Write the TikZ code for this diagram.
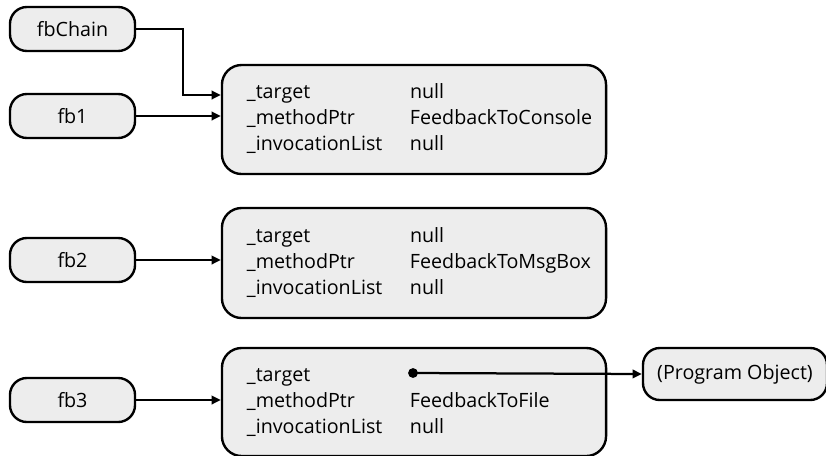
\documentclass[tikz,border=0pt]{standalone}
\usepackage{fontspec}
\setmainfont{Open Sans}
\usetikzlibrary{arrows.meta,positioning,calc}

\newcommand\fieldrows[3]{%
  \fontsize{14}{18.6}\selectfont
  \begin{tabular}{@{}p{4.075cm}@{}l@{}}
    \_target & #1\\
    \_methodPtr & #2\\
    \_invocationList & #3
  \end{tabular}}

\begin{document}
\begin{tikzpicture}[x=0.025cm, y=-0.025cm,
  ref/.style={draw, line width=1.7pt, fill=black!7, rounded corners=12pt,
    minimum width=3.125cm, minimum height=1.1cm, font=\fontsize{14}{16}\selectfont},
  obj/.style={draw, line width=1.7pt, fill=black!7, rounded corners=14pt,
    minimum width=9.6cm, inner xsep=0.625cm, text width=8.35cm, align=left},
  link/.style={line width=1.6pt, -{Triangle[length=6.5pt, width=6pt]}}]
\useasboundingbox (0,0) rectangle (826,455);

% references on the left
\node[ref] (fbChain) at (72.5,29) {fbChain};
\node[ref] (fb1) at (72.5,116) {fb1};
\node[ref] (fb2) at (72.5,260) {fb2};
\node[ref] (fb3) at (72.5,400) {fb3};

% delegate objects
\node[obj, minimum height=2.725cm] (del1) at (414,119.5) {\fieldrows{null}{FeedbackToConsole}{null}};
\node[obj, minimum height=2.75cm] (del2) at (414,263) {\fieldrows{null}{FeedbackToMsgBox}{null}};
\node[obj, minimum height=2.7cm] (del3) at (414,402) {\fieldrows{}{FeedbackToFile}{null}};
\node[ref, minimum width=4.6cm, minimum height=1.3cm] (prog) at (735,374) {(Program Object)};

% connectors
\coordinate (bend) at (183,95);
\draw[link] (fbChain.east) -| (bend) -- (bend -| del1.west);
\draw[link] (fb1.east) -- (fb1.east -| del1.west);
\draw[link] (fb2.east) -- (fb2.east -| del2.west);
\draw[link] (fb3.east) -- (fb3.east -| del3.west);
\coordinate (tgt) at (413,373);
\fill (tgt) circle (3.5pt);
\draw[link] (tgt) -- (prog.west);
\end{tikzpicture}
\end{document}
